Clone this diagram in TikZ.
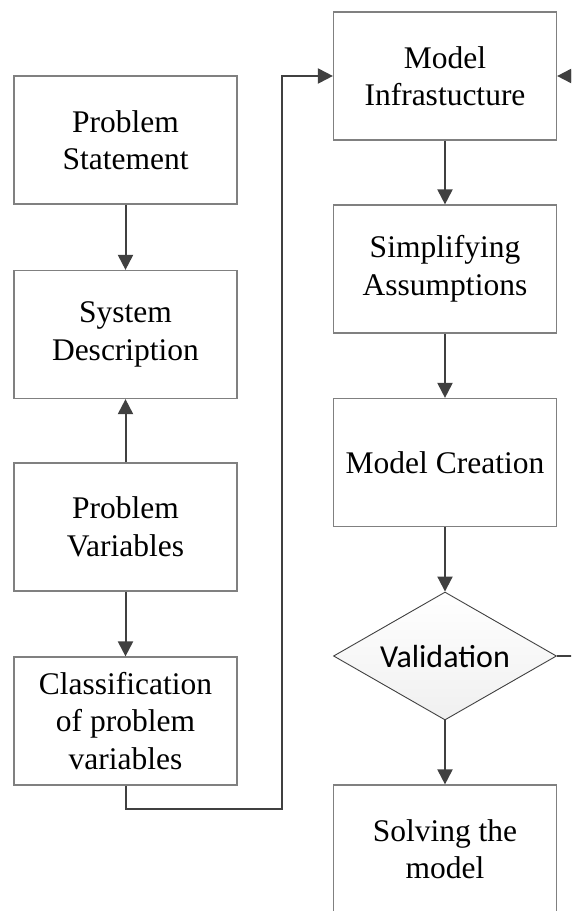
\documentclass[tikz,border=0pt]{standalone}
\usepackage{fontspec}
\setmainfont{Liberation Serif}
\newfontfamily\valfont{Carlito}
\usetikzlibrary{shapes.geometric,arrows.meta}
\definecolor{boxline}{HTML}{808080}
\definecolor{connline}{HTML}{404040}
\begin{document}
\begin{tikzpicture}[x=1pt,y=-1pt,
  stepbox/.style={draw=boxline,line width=1.2pt,fill=white,minimum width=223pt,minimum height=128pt,inner sep=0pt,align=center,font=\fontsize{31.5}{37.5}\selectfont},
  decision/.style={diamond,draw=connline,line width=0.9pt,top color=white,bottom color=black!6,minimum width=223pt,minimum height=128pt,aspect=1.742,inner sep=0pt,font=\valfont\fontsize{32}{38}\selectfont},
  conn/.style={draw=connline,line width=2pt,-{Triangle[length=15pt,width=15pt]}},
  plainconn/.style={draw=connline,line width=2pt}]
\useasboundingbox (0,0) rectangle (571,911);
\clip (0,0) rectangle (571,911);
% left column
\node[stepbox] (ps) at (125.5,140) {Problem\\Statement};
\node[stepbox] (sd) at (125.5,334.5) {System\\Description};
\node[stepbox] (pv) at (125.5,527) {Problem\\Variables};
\node[stepbox] (cl) at (125.5,721) {Classification\\of problem\\variables};
% right column
\node[stepbox] (mi) at (445,76) {Model\\Infrastucture};
\node[stepbox] (sa) at (445,269) {Simplifying\\Assumptions};
\node[stepbox] (mc) at (445,462.5) {Model Creation};
\node[decision] (val) at (445,656) {Validation};
\node[stepbox] (sol) at (445,849) {Solving the\\model};
% connectors
\draw[conn] (ps) -- (sd);
\draw[conn] (pv) -- (sd);
\draw[conn] (pv) -- (cl);
\coordinate (bend) at (282,809);
\draw[conn] (cl.south) |- (bend) |- (mi.west);
\draw[conn] (mi) -- (sa);
\draw[conn] (sa) -- (mc);
\draw[conn] (mc) -- (val);
\draw[conn] (val) -- (sol);
\coordinate (fbin) at (575,76);
\coordinate (fbout) at (575,656);
\draw[conn] (fbin) -- (mi.east);
\draw[plainconn] (val.east) -- (fbout);
\end{tikzpicture}
\end{document}
